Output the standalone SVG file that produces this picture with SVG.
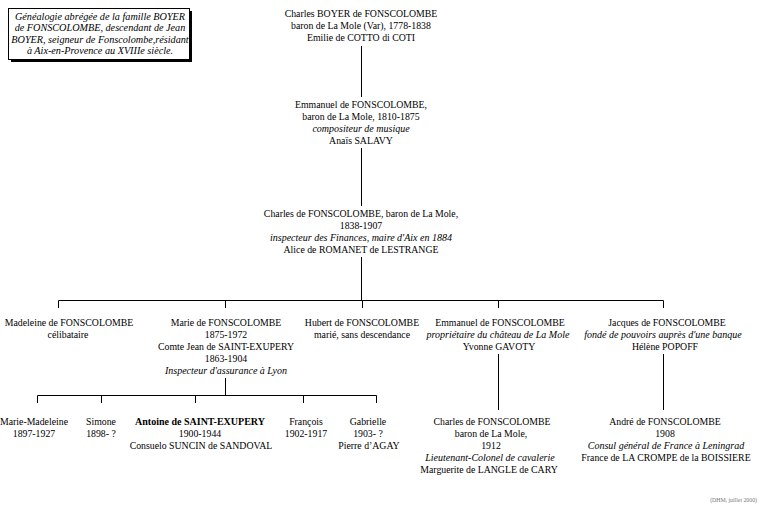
<svg xmlns="http://www.w3.org/2000/svg" width="767" height="509" viewBox="0 0 767 509">
<style>
text{font-family:"Liberation Serif","Times New Roman",serif;font-size:9.8px;fill:#000;text-anchor:middle}
.i{font-style:italic;font-size:10px}
.b{font-weight:bold;font-size:10px}
.l{stroke:#000;stroke-width:1;fill:none}
.note{font-size:10.2px;font-style:italic}
.credit{font-size:5.8px;fill:#777;text-anchor:end}
</style>
<rect width="767" height="509" fill="#fff"/>
<g id="note">
<rect x="11" y="11" width="181" height="51" fill="#000"/>
<rect x="8.5" y="8.5" width="181" height="51" fill="#fff" stroke="#000"/>
<text class="note" x="100" y="19.5">Généalogie abrégée de la famille BOYER</text>
<text class="note" x="100" y="31">de FONSCOLOMBE, descendant de Jean</text>
<text class="note" x="100" y="42.5">BOYER, seigneur de Fonscolombe,résidant</text>
<text class="note" x="100" y="54">à Aix-en-Provence au XVIIIe siècle.</text>
</g>
<g id="connectors">
<path class="l" d="M361.5 46V97M361.5 148V206M361.5 257V300.5M58.5 308V300.5H663.5V308M225.5 300.5V308M362.5 300.5V308M498.5 300.5V308"/>
<path class="l" d="M225.5 378V395.5M37.5 403V395.5H376.5V403M101.5 395.5V403M195.5 395.5V403M303.5 395.5V403"/>
<path class="l" d="M498.5 354V410M663.5 354V410"/>
</g>
<g id="n1">
<text x="361" y="17">Charles BOYER de FONSCOLOMBE</text>
<text x="361" y="29">baron de La Mole (Var), 1778-1838</text>
<text x="361" y="41">Emilie de COTTO di COTI</text>
</g>
<g id="n2">
<text x="361" y="108">Emmanuel de FONSCOLOMBE,</text>
<text x="361" y="120">baron de La Mole, 1810-1875</text>
<text class="i" x="361" y="132">compositeur de musique</text>
<text x="361" y="144">Anaïs SALAVY</text>
</g>
<g id="n3">
<text x="361" y="217">Charles de FONSCOLOMBE, baron de La Mole,</text>
<text x="361" y="229">1838-1907</text>
<text class="i" x="361" y="241">inspecteur des Finances, maire d'Aix en 1884</text>
<text x="361" y="253">Alice de ROMANET de LESTRANGE</text>
</g>
<g id="madeleine">
<text x="69" y="326">Madeleine de FONSCOLOMBE</text>
<text x="68" y="338">célibataire</text>
</g>
<g id="marie">
<text x="226" y="326">Marie de FONSCOLOMBE</text>
<text x="226" y="338">1875-1972</text>
<text x="226" y="350">Comte Jean de SAINT-EXUPERY</text>
<text x="226" y="362">1863-1904</text>
<text class="i" x="226" y="374">Inspecteur d'assurance à Lyon</text>
</g>
<g id="hubert">
<text x="362" y="326">Hubert de FONSCOLOMBE</text>
<text x="362" y="338">marié, sans descendance</text>
</g>
<g id="emmanuel2">
<text x="500" y="326">Emmanuel de FONSCOLOMBE</text>
<text class="i" x="498" y="338">propriétaire du château de La Mole</text>
<text x="499" y="350">Yvonne GAVOTY</text>
</g>
<g id="jacques">
<text x="667" y="326">Jacques de FONSCOLOMBE</text>
<text class="i" x="663" y="338">fondé de pouvoirs auprès d'une banque</text>
<text x="665" y="350">Hélène POPOFF</text>
</g>
<g id="mariemadeleine">
<text x="34" y="425">Marie-Madeleine</text>
<text x="34" y="437">1897-1927</text>
</g>
<g id="simone">
<text x="101" y="425">Simone</text>
<text x="101" y="437">1898- ?</text>
</g>
<g id="antoine">
<text class="b" x="200" y="425">Antoine de SAINT-EXUPERY</text>
<text x="200" y="437">1900-1944</text>
<text x="201" y="449">Consuelo SUNCIN de SANDOVAL</text>
</g>
<g id="francois">
<text x="306" y="425">François</text>
<text x="306" y="437">1902-1917</text>
</g>
<g id="gabrielle">
<text x="368" y="425">Gabrielle</text>
<text x="368" y="437">1903- ?</text>
<text x="369" y="449">Pierre d’AGAY</text>
</g>
<g id="charles2">
<text x="492" y="425">Charles de FONSCOLOMBE</text>
<text x="491" y="437">baron de La Mole,</text>
<text x="491" y="449">1912</text>
<text class="i" x="490" y="461">Lieutenant-Colonel de cavalerie</text>
<text x="489" y="473">Marguerite de LANGLE de CARY</text>
</g>
<g id="andre">
<text x="665" y="425">André de FONSCOLOMBE</text>
<text x="665" y="437">1908</text>
<text class="i" x="666" y="449">Consul général de France à Leningrad</text>
<text x="666" y="461">France de LA CROMPE de la BOISSIERE</text>
</g>
<text class="credit" x="757" y="502">(DHM, juillet 2000)</text>
</svg>
